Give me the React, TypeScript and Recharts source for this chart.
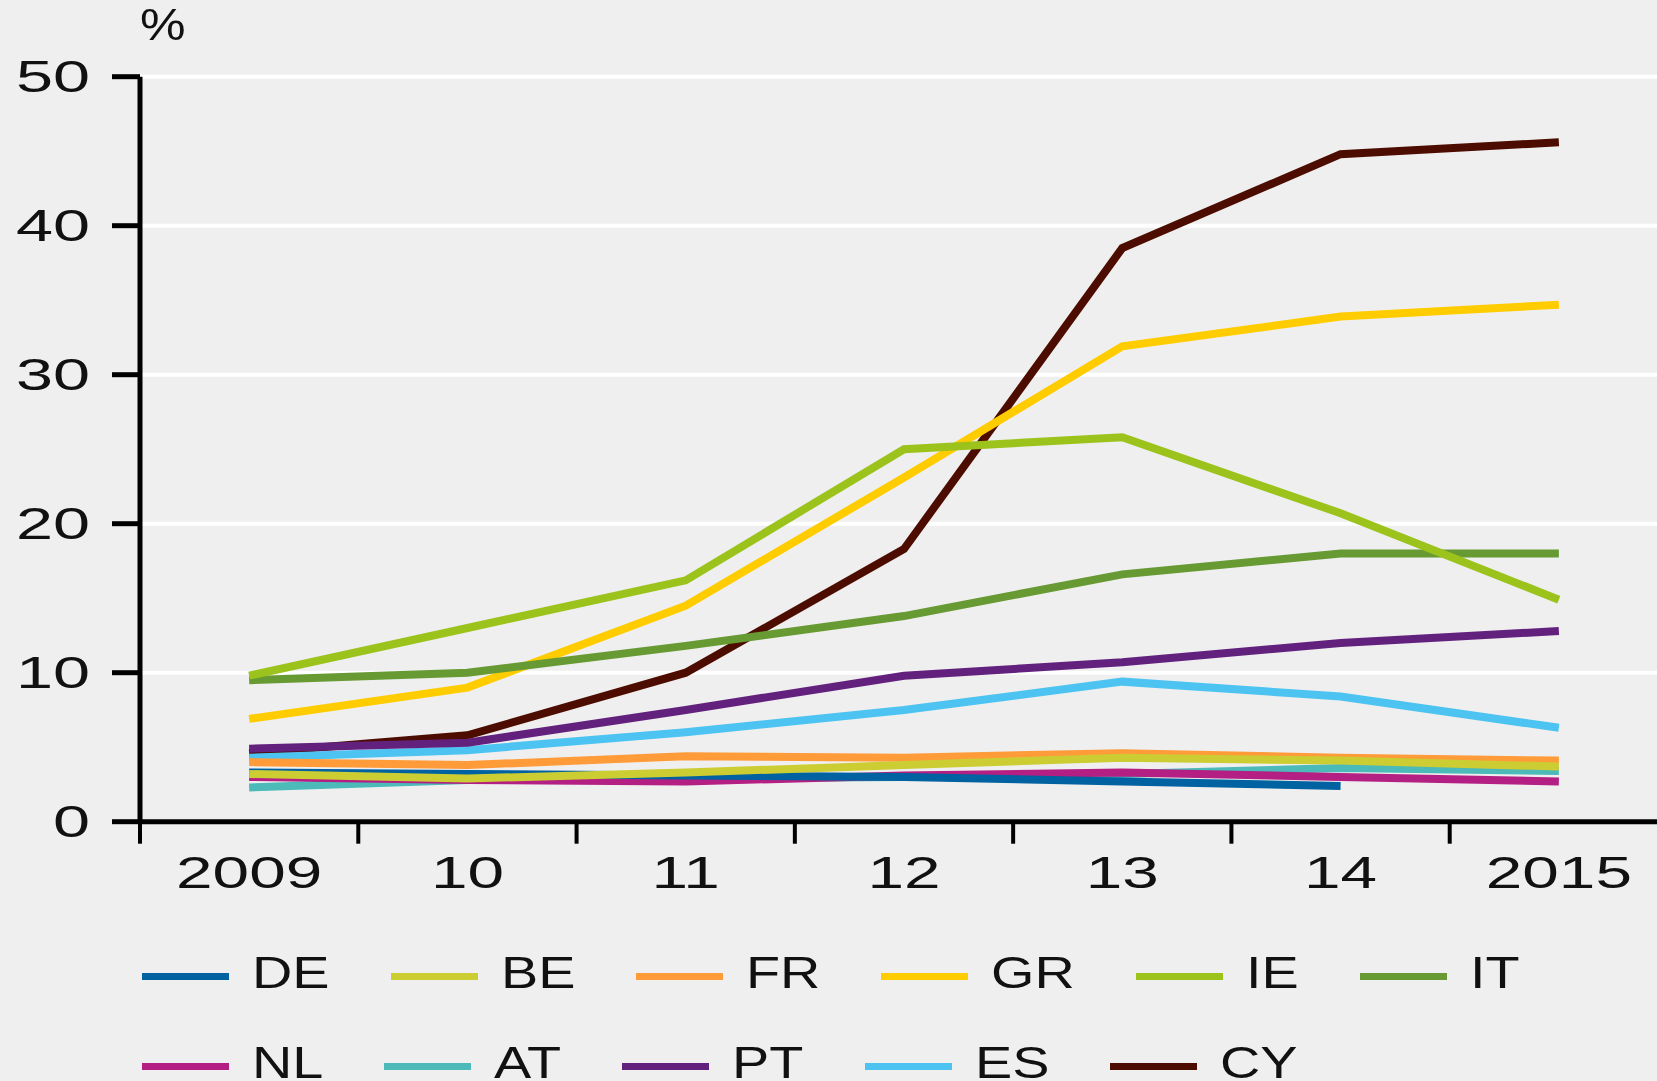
import { CartesianGrid, Line, LineChart, XAxis, YAxis } from "recharts"

// Non-performing loans ratio by country, per cent
const years = ["2009", "10", "11", "12", "13", "14", "2015"]

const de = [3.3, 3.2, 3.1, 3.0, 2.7, 2.4, null]
const be = [3.2, 2.9, 3.3, 3.8, 4.3, 4.1, 3.7]
const fr = [4.0, 3.8, 4.4, 4.3, 4.6, 4.3, 4.1]
const gr = [6.9, 9.0, 14.5, 23.1, 31.9, 33.9, 34.7]
const ie = [9.8, 13.0, 16.2, 25.0, 25.8, 20.7, 14.9]
const it = [9.5, 10.0, 11.8, 13.8, 16.6, 18.0, 18.0]
const nl = [3.0, 2.8, 2.7, 3.1, 3.3, 3.0, 2.7]
const at = [2.3, 2.8, 2.9, 3.0, 3.2, 3.6, 3.4]
const pt = [4.9, 5.3, 7.5, 9.8, 10.7, 12.0, 12.8]
const es = [4.3, 4.8, 6.0, 7.5, 9.4, 8.4, 6.3]
const cy = [4.6, 5.8, 10.0, 18.3, 38.5, 44.8, 45.6]

const yTicks = [0, 10, 20, 30, 40, 50]

const series = [
    { key: "DE", color: "#0062a0", values: de },
    { key: "BE", color: "#cccc33", values: be },
    { key: "FR", color: "#ff9b38", values: fr },
    { key: "GR", color: "#ffcc00", values: gr },
    { key: "IE", color: "#9bc31c", values: ie },
    { key: "IT", color: "#679a33", values: it },
    { key: "NL", color: "#b31f83", values: nl },
    { key: "AT", color: "#4bbab9", values: at },
    { key: "PT", color: "#63217e", values: pt },
    { key: "ES", color: "#4cc3f1", values: es },
    { key: "CY", color: "#4d0c00", values: cy },
]

// bottom to top
const drawOrder = ["CY", "ES", "PT", "GR", "IT", "IE", "AT", "NL", "FR", "DE", "BE"]

const rows = years.map((_, i) => {
    const row: any = { i }
    series.forEach((s) => (row[s.key] = s.values[i]))
    return row
})

// labels sit on the years, tick marks on the boundaries between them
const xTicks = years.flatMap((_, i) => [i - 0.5, i]).concat(years.length - 0.5)

const FONT = "'Liberation Sans', Arial, sans-serif"
const INK = "#111"

const stretch = (x: number, y: number, k: number) =>
    `translate(${x} ${y}) scale(${k} 1) translate(${-x} ${-y})`

const XTick = ({ x, y, payload }: any) => {
    const v = payload.value
    if (!Number.isInteger(v)) {
        return <line x1={x} x2={x} y1={y} y2={y + 22} stroke="#000" strokeWidth={4} />
    }
    const ty = y + 51
    return (
        <text x={x} y={ty} textAnchor="middle" dominantBaseline="central" fontSize={45}
            fontFamily={FONT} fill={INK} transform={stretch(x, ty, 1.46)}>
            {years[v]}
        </text>
    )
}

const YTick = ({ x, y, payload }: any) => (
    <text x={x} y={y} textAnchor="end" dominantBaseline="central" fontSize={45}
        fontFamily={FONT} fill={INK} transform={stretch(x, y, 1.48)}>
        {payload.value}
    </text>
)

let ctx: CanvasRenderingContext2D | null = null
function textWidth(s: string) {
    if (!ctx) {
        ctx = document.createElement("canvas").getContext("2d")
        if (ctx) ctx.font = `45px ${FONT}`
    }
    return ctx ? ctx.measureText(s).width : s.length * 30
}

function LegendRow({ items }: { items: typeof series }) {
    return (
        <div style={{ display: "flex", alignItems: "center", height: 50 }}>
            {items.map((s) => {
                const w = textWidth(s.key) * 1.24
                return (
                    <div key={s.key} style={{ display: "flex", alignItems: "center", marginRight: 61 }}>
                        <div style={{ width: 87, height: 7, background: s.color }} />
                        <div style={{ width: w, marginLeft: 23, position: "relative", top: -3, height: 50 }}>
                            <span style={{
                                display: "inline-block", transform: "scaleX(1.24)", transformOrigin: "left",
                                fontSize: 45, lineHeight: "50px", fontFamily: FONT, color: INK, whiteSpace: "nowrap",
                            }}>{s.key}</span>
                        </div>
                    </div>
                )
            })}
        </div>
    )
}

export default function App() {
    return (
        <div style={{
            position: "absolute", left: 0, top: 0, width: 1657, height: 1081,
            overflow: "hidden", background: "#efefef",
        }}>
            <LineChart width={1668} height={1081} data={rows}
                margin={{ top: 76.7, right: 0, bottom: 258.3, left: 0 }}>
                <CartesianGrid vertical={false} stroke="#ffffff" strokeWidth={4} />
                <XAxis dataKey="i" type="number" domain={[-0.5, years.length - 0.5]}
                    ticks={xTicks} interval={0} allowDataOverflow
                    height={1} tickSize={0} tickMargin={0} tickLine={false}
                    axisLine={{ stroke: "#000", strokeWidth: 5 }}
                    tick={<XTick />} />
                <YAxis domain={[0, 50]} ticks={yTicks} interval={0} width={140}
                    tickSize={28} tickMargin={22}
                    axisLine={{ stroke: "#000", strokeWidth: 5 }}
                    tickLine={{ stroke: "#000", strokeWidth: 5 }}
                    tick={<YTick />} />
                {drawOrder.map((k) => {
                    const s = series.find((d) => d.key === k)!
                    return (
                        <Line key={k} dataKey={k} stroke={s.color} strokeWidth={8}
                            strokeLinecap="butt" dot={false} activeDot={false}
                            isAnimationActive={false} />
                    )
                })}
            </LineChart>
            <span style={{
                position: "absolute", left: 140, top: 0, fontSize: 45, lineHeight: "50px",
                fontFamily: FONT, color: INK, display: "inline-block",
                transform: "scaleX(1.14)", transformOrigin: "left",
            }}>%</span>
            <div style={{ position: "absolute", left: 142, top: 951 }}>
                <LegendRow items={series.slice(0, 6)} />
                <div style={{ height: 40 }} />
                <LegendRow items={series.slice(6)} />
            </div>
        </div>
    )
}
